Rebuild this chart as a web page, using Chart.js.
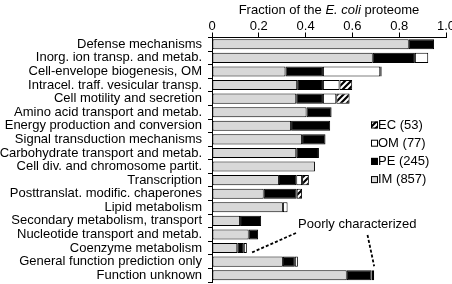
<!DOCTYPE html>
<html lang="en">
<head>
  <meta charset="UTF-8" />
  <title>Fraction of the E. coli proteome</title>
  <script src="https://cdn.jsdelivr.net/npm/chart.js"></script>
  <style>
    body {
      margin: 0;
      background: #fff;
    }
    #wrap {
      width: 452px;
      height: 284px;
      position: relative;
    }
  </style>
</head>
<body>

<div id="wrap"><canvas id="grafico"></canvas></div>

<script>
  const categorias = [
    'Defense mechanisms',
    'Inorg. ion transp. and metab.',
    'Cell-envelope biogenesis, OM',
    'Intracel. traff. vesicular transp.',
    'Cell motility and secretion',
    'Amino acid transport and metab.',
    'Energy production and conversion',
    'Signal transduction mechanisms',
    'Carbohydrate transport and metab.',
    'Cell div. and chromosome partit.',
    'Transcription',
    'Posttranslat. modific. chaperones',
    'Lipid metabolism',
    'Secondary metabolism, transport',
    'Nucleotide transport and metab.',
    'Coenzyme metabolism',
    'General function prediction only',
    'Function unknown'
  ];

  // fraccion por compartimento (IM, PE, OM, EC)
  const valoresIM = [0.841, 0.687, 0.314, 0.364, 0.360, 0.404, 0.338, 0.385, 0.360, 0.440, 0.286, 0.221, 0.303, 0.120, 0.157, 0.108, 0.303, 0.576];
  const valoresPE = [0.108, 0.180, 0.160, 0.110, 0.114, 0.107, 0.167, 0.100, 0.097, 0, 0.074, 0.141, 0, 0.090, 0.040, 0.028, 0.051, 0.106];
  const valoresOM = [0, 0.057, 0.245, 0.071, 0.057, 0, 0, 0, 0, 0, 0.025, 0, 0.020, 0, 0, 0.013, 0.013, 0.006];
  const valoresEC = [0, 0, 0.006, 0.054, 0.057, 0, 0, 0, 0, 0, 0.029, 0.023, 0, 0, 0, 0, 0, 0.005];

  const series = ['IM', 'PE', 'OM', 'EC'];
  const conteos = [857, 245, 77, 53];
  const ticksX = [0, 0.2, 0.4, 0.6, 0.8, 1];

  const fuente = '"Liberation Sans", Arial, sans-serif';

  // patron rayado para EC
  const pc = document.createElement('canvas');
  pc.width = 6; pc.height = 6;
  const pctx = pc.getContext('2d');
  pctx.fillStyle = '#fff';
  pctx.fillRect(0, 0, 6, 6);
  pctx.strokeStyle = '#000';
  pctx.lineWidth = 2.2;
  pctx.beginPath();
  pctx.moveTo(-1, 7); pctx.lineTo(7, -1);
  pctx.moveTo(-4, 4); pctx.lineTo(4, -4);
  pctx.moveTo(2, 10); pctx.lineTo(10, 2);
  pctx.stroke();
  const rayado = pctx.createPattern(pc, 'repeat');

  const rellenos = ['#d8d8d8', '#000', '#fff', rayado];

  const decorPlugin = {
    id: 'decor',
    afterDraw(chart) {
      const ctx = chart.ctx;
      const xs = chart.scales.x, ys = chart.scales.y;
      ctx.save();
      ctx.fillStyle = '#000';
      ctx.textBaseline = 'alphabetic';

      // titulo con E. coli en cursiva
      const p1 = 'Fraction of the ', p2 = 'E. coli', p3 = ' proteome';
      ctx.font = '13px ' + fuente;
      const w1 = ctx.measureText(p1).width, w3 = ctx.measureText(p3).width;
      ctx.font = 'italic 13px ' + fuente;
      const w2 = ctx.measureText(p2).width;
      let tx = (xs.left + xs.right) / 2 - (w1 + w2 + w3) / 2;
      ctx.textAlign = 'left';
      ctx.font = '13px ' + fuente;
      ctx.fillText(p1, tx, 13.5);
      ctx.font = 'italic 13px ' + fuente;
      ctx.fillText(p2, tx + w1, 13.5);
      ctx.font = '13px ' + fuente;
      ctx.fillText(p3, tx + w1 + w2, 13.5);

      // leyenda (EC arriba)
      ctx.font = '13px ' + fuente;
      ctx.textBaseline = 'middle';
      for (let k = 0; k < series.length; k++) {
        const i = series.length - 1 - k;
        const y = 125 + k * 18.2;
        ctx.fillStyle = rellenos[i];
        ctx.fillRect(371, y - 3.5, 7, 7);
        ctx.strokeStyle = '#000';
        ctx.lineWidth = 1;
        ctx.strokeRect(371.5, y - 3, 6, 6);
        ctx.fillStyle = '#000';
        ctx.fillText(series[i] + ' (' + conteos[i] + ')', 378, y);
      }

      // anotacion
      ctx.textBaseline = 'middle';
      ctx.fillText('Poorly characterized', 298, 224);
      ctx.setLineDash([3, 2]);
      ctx.lineWidth = 1.8;
      ctx.strokeStyle = '#000';
      const tot = i => valoresIM[i] + valoresPE[i] + valoresOM[i] + valoresEC[i];
      const iCo = categorias.indexOf('Coenzyme metabolism');
      const iFu = categorias.indexOf('Function unknown');
      ctx.beginPath();
      ctx.moveTo(296, 233);
      ctx.lineTo(xs.getPixelForValue(tot(iCo)) + 5, ys.getPixelForValue(iCo) + 4.5);
      ctx.moveTo(367.5, 235);
      ctx.lineTo(xs.getPixelForValue(tot(iFu)), ys.getPixelForValue(iFu) - 9);
      ctx.stroke();
      ctx.restore();
    }
  };

  const valores = [valoresIM, valoresPE, valoresOM, valoresEC];

  new Chart(document.getElementById('grafico').getContext('2d'), {
    type: 'bar',
    data: {
      labels: categorias,
      datasets: series.map((s, i) => ({
        label: s,
        data: valores[i],
        backgroundColor: rellenos[i],
        borderColor: '#000',
        borderWidth: 1,
        borderSkipped: false,
        categoryPercentage: 1,
        barPercentage: 0.74
      }))
    },
    options: {
      indexAxis: 'y',
      responsive: true,
      maintainAspectRatio: false,
      animation: false,
      layout: { padding: { left: 0, right: 6, top: 0, bottom: 2 } },
      scales: {
        x: {
          position: 'top',
          stacked: true,
          min: 0,
          max: 1,
          afterBuildTicks: s => { s.ticks = ticksX.map(v => ({ value: v })); },
          afterFit: s => { s.height = 37.5; s.paddingLeft = 0; s.paddingRight = 0; },
          border: { display: true, color: '#000', width: 1 },
          grid: { drawOnChartArea: false, color: '#000', tickLength: 5 },
          ticks: {
            color: '#000',
            padding: 0,
            font: { family: fuente, size: 13, lineHeight: 1 },
            maxRotation: 0
          }
        },
        y: {
          stacked: true,
          afterFit: s => { s.width = 212; s.paddingTop = 0; s.paddingBottom = 0; },
          border: { display: true, color: '#000', width: 1 },
          grid: { drawOnChartArea: false, color: '#000', tickLength: 4, offset: true },
          ticks: {
            color: '#000',
            padding: 6,
            autoSkip: false,
            font: { family: fuente, size: 13 }
          }
        }
      },
      plugins: {
        legend: { display: false },
        tooltip: { enabled: false }
      }
    },
    plugins: [decorPlugin]
  });
</script>

</body>
</html>
